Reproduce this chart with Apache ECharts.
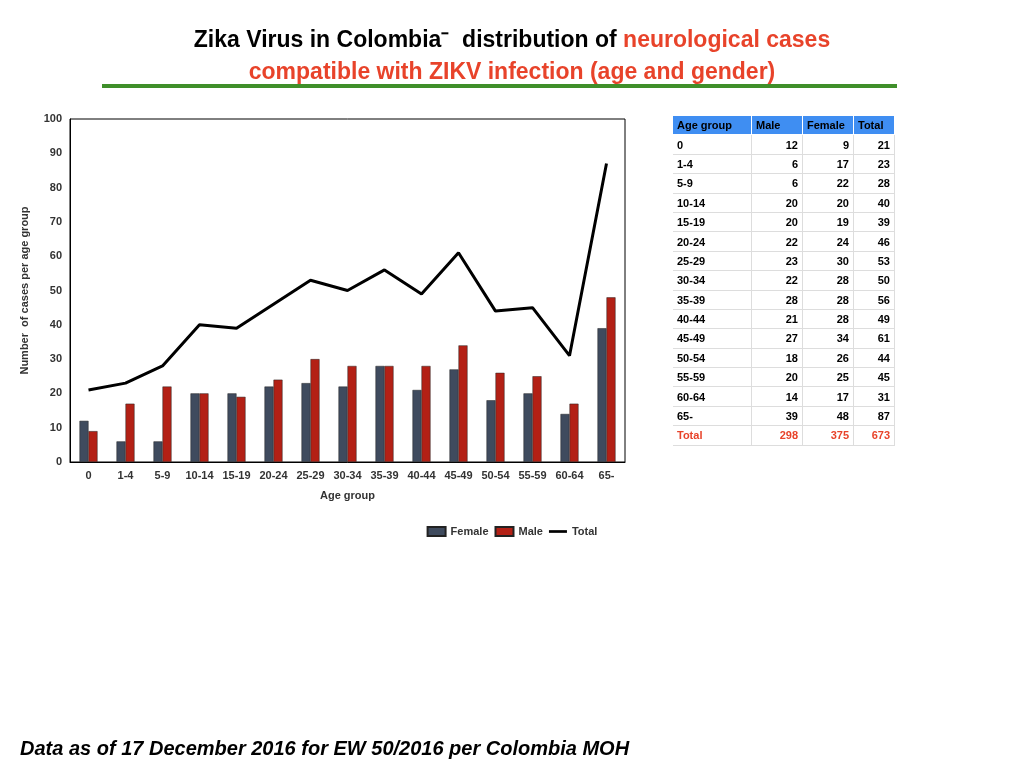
<!DOCTYPE html>
<html><head><meta charset="utf-8">
<script src="https://cdn.jsdelivr.net/npm/echarts@6/dist/echarts.min.js"></script>
<style>
body{margin:0;background:#fff;font-family:"Liberation Sans",Arial,sans-serif}
#chart{position:absolute;left:0;top:0;width:1024px;height:768px}
#tbl{position:absolute;left:673px;top:116px;border-collapse:collapse;font-size:11px;font-weight:bold}
#tbl td{height:18.4px;padding:0 4px;border-bottom:1px solid #ddd;border-right:1px solid #ddd}
#tbl tr:first-child td{background:#3f8ef2;color:#000;border-color:#fff}
#tbl td.n{text-align:right}
#tbl tr.tot td{color:#e8432a}
</style></head><body>
<div id="chart"></div>
<table id="tbl"></table>
<script>
const ageGroups = ['0','1-4','5-9','10-14','15-19','20-24','25-29','30-34','35-39','40-44','45-49','50-54','55-59','60-64','65-'];
const female = [12,6,6,20,20,22,23,22,28,21,27,18,20,14,39];
const male = [9,17,22,20,19,24,30,28,28,28,34,26,25,17,48];
const total = [21,23,28,40,39,46,53,50,56,49,61,44,45,31,87];
const tableMale = [12,6,6,20,20,22,23,22,28,21,27,18,20,14,39];
const tableFemale = [9,17,22,20,19,24,30,28,28,28,34,26,25,17,48];
const tableTotals = [298,375,673];

let html = '<tr><td style="width:70px">Age group</td><td style="width:42px">Male</td><td style="width:42px">Female</td><td style="width:32px">Total</td></tr>';
ageGroups.forEach((g,i)=>{
  html += `<tr><td>${g}</td><td class="n">${tableMale[i]}</td><td class="n">${tableFemale[i]}</td><td class="n">${total[i]}</td></tr>`;
});
html += `<tr class="tot"><td>Total</td><td class="n">${tableTotals[0]}</td><td class="n">${tableTotals[1]}</td><td class="n">${tableTotals[2]}</td></tr>`;
document.getElementById('tbl').innerHTML = html;

const myChart = echarts.init(document.getElementById('chart'));
myChart.setOption({
  animation:false,
  title:{
    left:'center', top:20,
    text:'{b|Zika Virus in Colombia⁻  distribution of }{r|neurological cases}\n{r|compatible with ZIKV infection (age and gender)}',
    textStyle:{rich:{
      b:{fontSize:23,fontWeight:'bold',color:'#000',lineHeight:32,fontFamily:'Liberation Sans'},
      r:{fontSize:23,fontWeight:'bold',color:'#e8432a',lineHeight:32,fontFamily:'Liberation Sans'}
    }}
  },
  graphic:[
    {type:'line',shape:{x1:102,y1:86,x2:897,y2:86},style:{stroke:'#3f8f2a',lineWidth:4}},
    {type:'text',left:20,top:739,style:{text:'Data as of 17 December 2016 for EW 50/2016 per Colombia MOH',font:'italic bold 20px "Liberation Sans"',fill:'#000'}}
  ],
  legend:{top:521,left:'center',itemWidth:18,itemHeight:9,itemGap:6,
    textStyle:{fontSize:11,fontWeight:'bold',color:'#333'},
    data:[{name:'Female',icon:'rect'},{name:'Male',icon:'rect'},{name:'Total',icon:'path://M0,0 L20,0 L20,3 L0,3 Z'}]},
  grid:{left:70,top:119,width:555,height:343,show:true,borderColor:'#000',borderWidth:1},
  xAxis:{type:'category',data:ageGroups,name:'Age group',nameLocation:'middle',nameGap:28,
    nameTextStyle:{fontSize:11,fontWeight:'bold',color:'#333'},
    axisLabel:{fontSize:11,fontWeight:'bold',color:'#333'},axisTick:{show:false},
    axisLine:{lineStyle:{color:'#000'}}},
  yAxis:{type:'value',min:0,max:100,interval:10,name:'Number  of cases per age group',nameLocation:'middle',nameGap:40,
    nameTextStyle:{fontSize:11,fontWeight:'bold',color:'#333'},
    axisLabel:{fontSize:11,fontWeight:'bold',color:'#333'},splitLine:{show:false},
    axisLine:{show:true,lineStyle:{color:'#000'}}},
  series:[
    {name:'Female',type:'bar',data:female,barWidth:9,barGap:'0%',itemStyle:{color:'#3f4b5e',borderColor:'#222',borderWidth:0.5}},
    {name:'Male',type:'bar',data:male,barWidth:9,itemStyle:{color:'#b32015',borderColor:'#222',borderWidth:0.5}},
    {name:'Total',type:'line',data:total,symbol:'none',lineStyle:{color:'#000',width:3},itemStyle:{color:'#000'}}
  ]
});
</script>
</body></html>
